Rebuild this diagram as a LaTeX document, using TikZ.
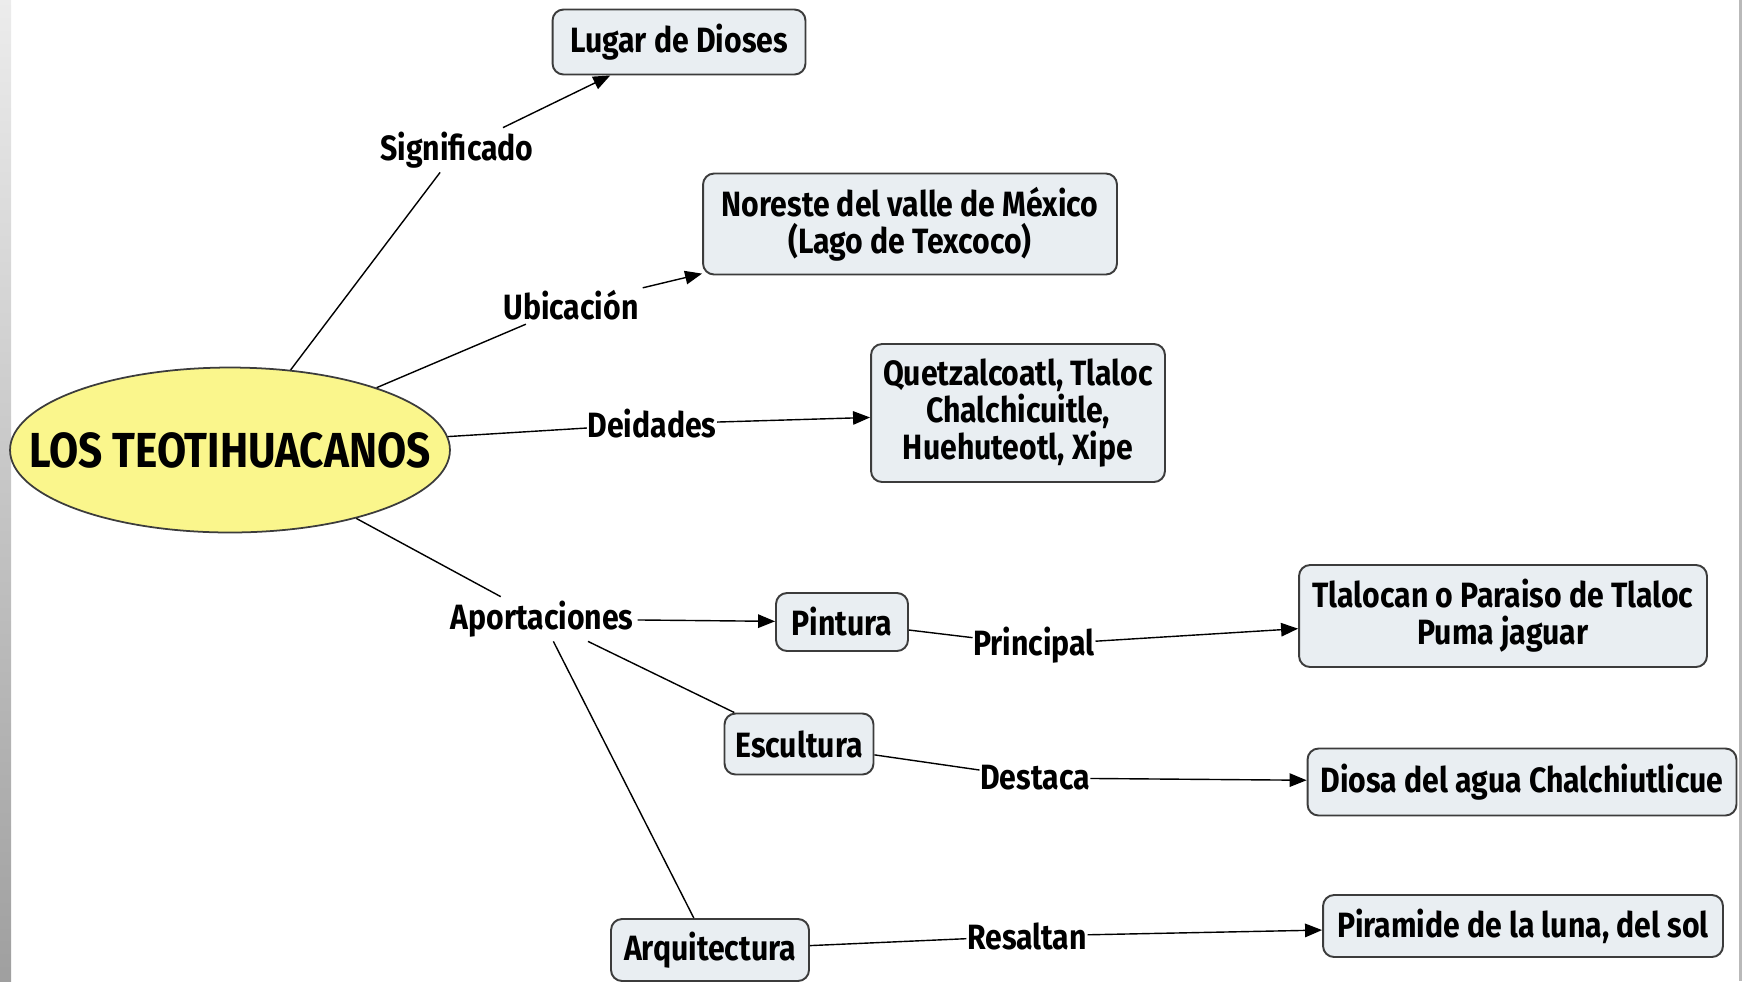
\documentclass[tikz,border=0pt]{standalone}
\usepackage{fontspec}
\setmainfont{Fira Sans}[FakeStretch=0.86]
\usetikzlibrary{arrows.meta,shapes.geometric}
\definecolor{cmapyellow}{RGB}{250,246,140}
\definecolor{cmapblue}{RGB}{233,238,242}
\definecolor{cmapline}{RGB}{60,60,60}
\tikzset{
  concept/.style={draw=cmapline, line width=1.1pt, fill=cmapblue,
    rounded corners=0.22cm, align=center, inner sep=0pt,
    font=\fontsize{20}{21}\selectfont\bfseries},
  root/.style={ellipse, draw=cmapline, line width=1pt, fill=cmapyellow,
    inner sep=0pt, minimum width=8.8cm, minimum height=3.3cm,
    font=\fontsize{28}{29}\selectfont\bfseries},
  link/.style={inner sep=2pt, font=\fontsize{20}{21}\selectfont\bfseries},
  tip/.style={-{Triangle[length=0.34cm,width=0.27cm]}},
}
\begin{document}
\begin{tikzpicture}[line width=0.8pt]
    \def\x{0.02}
    \def\y{0.02}
    \useasboundingbox (0,0) rectangle (1745*\x, -981*\y);
    % edges of the slide
    \shade[top color=gray!15, bottom color=gray!75] (0,0) rectangle (11*\x, -981*\y);
    \fill[gray!55] (1739*\x, 0) rectangle (1742*\x, -981*\y);
    % concepts
    \node[root] (A0) at (230*\x, -450*\y) {\makebox[0pt]{LOS TEOTIHUACANOS}};
    \node[concept, minimum width=5.06cm, minimum height=1.30cm] (B1) at (679*\x, -42*\y) {Lugar de Dioses};
    \node[concept, minimum width=8.28cm, minimum height=2.02cm] (B2) at (910*\x, -224*\y) {Noreste del valle de México\\(Lago de Texcoco)};
    \node[concept, minimum width=5.88cm, minimum height=2.76cm] (B3) at (1018*\x, -413*\y) {Quetzalcoatl, Tlaloc\\Chalchicuitle,\\Huehuteotl, Xipe};
    \node[concept, minimum width=2.64cm, minimum height=1.16cm] (B4) at (842*\x, -622*\y) {Pintura};
    \node[concept, minimum width=2.98cm, minimum height=1.22cm] (B5) at (799*\x, -744*\y) {Escultura};
    \node[concept, minimum width=3.96cm, minimum height=1.24cm] (B6) at (710*\x, -950*\y) {Arquitectura};
    \node[concept, minimum width=8.16cm, minimum height=2.04cm] (B7) at (1503*\x, -616*\y) {Tlalocan o Paraiso de Tlaloc\\Puma jaguar};
    \node[concept, minimum width=8.58cm, minimum height=1.34cm] (B8) at (1522*\x, -782*\y) {Diosa del agua Chalchiutlicue};
    \node[concept, minimum width=8.00cm, minimum height=1.24cm] (B9) at (1523*\x, -926*\y) {Piramide de la luna, del sol};
    % linking phrases
    \node[link] (L1) at (457*\x, -150*\y) {Significado};
    \node[link] (L2) at (571*\x, -305*\y) {Ubicación};
    \node[link, inner sep=0pt] (L3) at (652*\x, -424*\y) {Deidades};
    \node[link] (L4) at (542*\x, -619*\y) {Aportaciones};
    \node[link, inner sep=0pt] (L5) at (1034*\x, -645*\y) {Principal};
    \node[link, inner sep=0pt] (L6) at (1035*\x, -778*\y) {Destaca};
    \node[link, inner sep=0pt] (L7) at (1027*\x, -936*\y) {Resaltan};
    % connections
    \path (A0) edge (L1);
    \path (L1) edge [tip] (B1);
    \path (A0) edge (L2);
    \path (L2) edge [tip] (B2);
    \path (A0) edge (L3);
    \path (L3) edge [tip] (B3);
    \path (A0) edge (L4);
    \path (L4) edge [tip] (B4);
    \path (L4) edge (B5);
    \path (L4) edge (B6);
    \path (B4) edge (L5);
    \path (L5) edge [tip] (B7);
    \path (B5) edge (L6);
    \path (L6) edge [tip] (B8);
    \path (B6) edge (L7);
    \path (L7) edge [tip] (B9);
  \end{tikzpicture}
\end{document}
